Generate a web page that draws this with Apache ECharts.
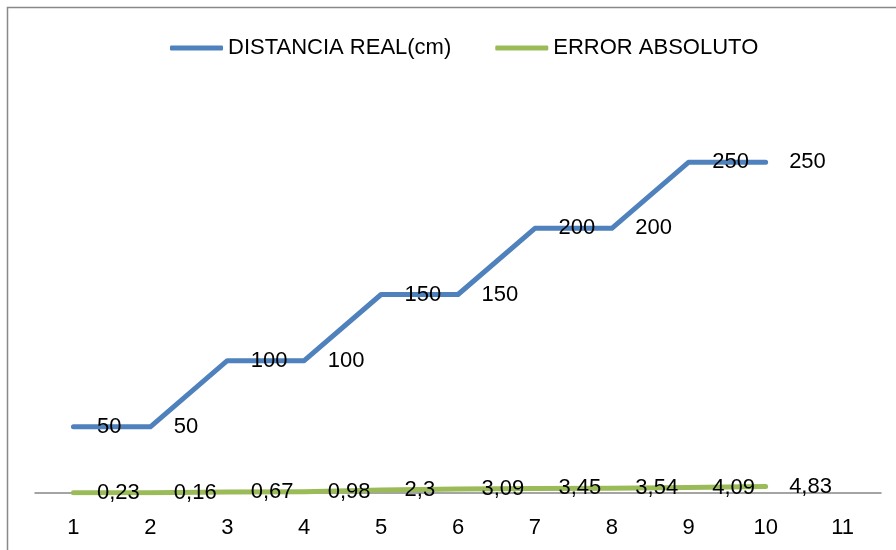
<!DOCTYPE html>
<html>
<head>
<meta charset="utf-8">
<script src="https://cdn.jsdelivr.net/npm/echarts@6/dist/echarts.min.js"></script>
<style>
  html, body { margin: 0; padding: 0; background: #fff; }
  #chart { width: 896px; height: 550px; }
</style>
</head>
<body>
<div id="chart"></div>
<script>
// Measurement runs: x positions 1..11, real distance and absolute error per run
const categories = ['1', '2', '3', '4', '5', '6', '7', '8', '9', '10', '11'];
const distanciaReal = [50, 50, 100, 100, 150, 150, 200, 200, 250, 250];
const errorAbsoluto = [0.23, 0.16, 0.67, 0.98, 2.3, 3.09, 3.45, 3.54, 4.09, 4.83];
const seriesNames = ['DISTANCIA REAL(cm)', 'ERROR ABSOLUTO'];

const FONT = '"Liberation Sans", Arial, sans-serif';
const BLUE = '#4F81BD';
const GREEN = '#9BBB59';

// decimal comma, as in the source spreadsheet
const fmt = p => String(p.value).replace('.', ',');

function lineSeries(name, data, color) {
  return {
    name: name,
    type: 'line',
    data: data,
    symbol: 'circle',
    symbolSize: 1,
    itemStyle: { color: 'transparent' },
    lineStyle: { color: color, width: 5, cap: 'round', join: 'round' },
    emphasis: { disabled: true },
    label: {
      show: true,
      position: 'right',
      distance: 23,
      offset: [0, 4],
      color: '#000',
      fontFamily: FONT,
      fontSize: 22,
      formatter: fmt
    },
    labelLayout: { hideOverlap: false },
    animation: false
  };
}

const chart = echarts.init(document.getElementById('chart'));
chart.setOption({
  backgroundColor: '#fff',
  animation: false,
  graphic: [{
    type: 'rect',
    shape: { x: 7.5, y: 7.5, width: 920, height: 600 },
    style: { fill: 'none', stroke: '#898989', lineWidth: 1.5 },
    silent: true
  }],
  legend: {
    left: 170,
    top: 37,
    padding: 0,
    itemWidth: 53,
    itemHeight: 5,
    itemGap: 44,
    icon: 'roundRect',
    textStyle: { color: '#000', fontFamily: FONT, fontSize: 22 },
    data: [
      { name: seriesNames[0], itemStyle: { color: BLUE, opacity: 1 } },
      { name: seriesNames[1], itemStyle: { color: GREEN, opacity: 1 } }
    ]
  },
  grid: { left: 35, right: 15, top: 96, bottom: 57 },
  xAxis: {
    type: 'category',
    data: categories,
    boundaryGap: true,
    axisLine: { lineStyle: { color: '#868686', width: 1.5 } },
    axisTick: { show: false },
    axisLabel: { color: '#000', fontFamily: FONT, fontSize: 22, margin: 24 }
  },
  yAxis: {
    type: 'value',
    min: 0,
    max: 300,
    show: false
  },
  series: [
    lineSeries(seriesNames[0], distanciaReal, BLUE),
    lineSeries(seriesNames[1], errorAbsoluto, GREEN)
  ]
});
</script>
</body>
</html>
